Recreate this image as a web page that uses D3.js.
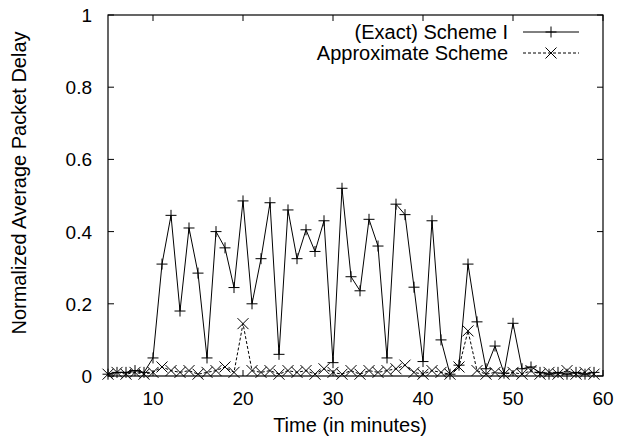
<!DOCTYPE html>
<html>
<head>
<meta charset="utf-8">
<script src="https://cdn.jsdelivr.net/npm/d3@7"></script>
<style>
  body { margin: 0; background: #fff; }
  svg { display: block; font-family: "Liberation Sans", Arial, sans-serif; }
</style>
</head>
<body>
<svg id="chart" width="623" height="443"></svg>
<script>
// Normalized average packet delay over time, two schemes

const minutes = d3.range(5, 60);   // 5 .. 59, one sample per minute

const exactDelay = [
  0.005, 0.01, 0.01, 0.015, 0.01,            // 5-9
  0.05, 0.31, 0.445, 0.18, 0.41,             // 10-14
  0.285, 0.05, 0.40, 0.355, 0.245,           // 15-19
  0.485, 0.20, 0.325, 0.48, 0.06,            // 20-24
  0.46, 0.325, 0.405, 0.345, 0.43,           // 25-29
  0.037, 0.52, 0.275, 0.236, 0.434,          // 30-34
  0.36, 0.05, 0.476, 0.447, 0.246,           // 35-39
  0.04, 0.43, 0.10, 0.005, 0.03,             // 40-44
  0.31, 0.15, 0.02, 0.083, 0.008,            // 45-49
  0.146, 0.02, 0.025, 0.01, 0.005,           // 50-54
  0.01, 0.005, 0.01, 0.005, 0.01             // 55-59
];

const approxDelay = [
  0.005, 0.01, 0.005, 0.01, 0.005,           // 5-9
  0.01, 0.025, 0.015, 0.01, 0.015,           // 10-14
  0.005, 0.01, 0.015, 0.025, 0.01,           // 15-19
  0.145, 0.015, 0.01, 0.015, 0.005,          // 20-24
  0.015, 0.01, 0.015, 0.005, 0.02,           // 25-29
  0.01, 0.005, 0.015, 0.005, 0.015,          // 30-34
  0.01, 0.015, 0.02, 0.03, 0.01,             // 35-39
  0.005, 0.015, 0.01, 0.005, 0.025,          // 40-44
  0.125, 0.015, 0.005, 0.01, 0.005,          // 45-49
  0.01, 0.005, 0.015, 0.005, 0.01,           // 50-54
  0.005, 0.015, 0.005, 0.01, 0.005           // 55-59
];

const xTicks = [10, 20, 30, 40, 50, 60];
const yTicks = [0, 0.2, 0.4, 0.6, 0.8, 1];

const seriesNames = ["(Exact) Scheme I", "Approximate Scheme"];

const width = 623, height = 443;
const margin = { top: 15, right: 20, bottom: 67, left: 108 };

const svg = d3.select("#chart");

const x = d3.scaleLinear()
  .domain([5, 60])
  .range([margin.left, width - margin.right]);

const y = d3.scaleLinear()
  .domain([0, 1])
  .range([height - margin.bottom, margin.top]);

const series = [
  { name: seriesNames[0], values: exactDelay, dash: null, marker: "plus" },
  { name: seriesNames[1], values: approxDelay, dash: "3,2", marker: "cross" }
];

const line = d3.line()
  .x(d => x(d[0]))
  .y(d => y(d[1]));

// marker path, centred on 0,0
function markerPath(type, s = 5.5) {
  if (type === "plus") return `M${-s},0H${s}M0,${-s}V${s}`;
  return `M${-s},${-s}L${s},${s}M${-s},${s}L${s},${-s}`;
}

// Frame ticks (gnuplot style: inward, mirrored)
const tickLen = 6;
const axes = svg.append("g")
  .attr("stroke", "#000")
  .attr("stroke-width", 1);

axes.selectAll(".xt")
  .data(xTicks)
  .join("path")
  .attr("d", d => `M${x(d)},${y(0)}v${-tickLen}M${x(d)},${y(1)}v${tickLen}`);

axes.selectAll(".yt")
  .data(yTicks)
  .join("path")
  .attr("d", d => `M${x(5)},${y(d)}h${tickLen}M${x(60)},${y(d)}h${-tickLen}`);

// Tick labels
svg.append("g")
  .selectAll("text")
  .data(xTicks)
  .join("text")
  .attr("x", d => x(d))
  .attr("y", y(0) + 29)
  .attr("text-anchor", "middle")
  .style("font-size", "19px")
  .text(d => d);

svg.append("g")
  .selectAll("text")
  .data(yTicks)
  .join("text")
  .attr("x", x(5) - 16)
  .attr("y", d => y(d) + 7)
  .attr("text-anchor", "end")
  .style("font-size", "19px")
  .text(d => d);

// Data
const g = svg.append("g");

series.forEach(s => {
  const pts = minutes.map((m, i) => [m, s.values[i]]);

  g.append("path")
    .datum(pts)
    .attr("fill", "none")
    .attr("stroke", "#000")
    .attr("stroke-width", 1)
    .attr("stroke-dasharray", s.dash)
    .attr("d", line);

  g.selectAll(null)
    .data(pts)
    .join("path")
    .attr("transform", d => `translate(${x(d[0])},${y(d[1])})`)
    .attr("d", markerPath(s.marker))
    .attr("stroke", "#000")
    .attr("stroke-width", 1)
    .attr("fill", "none");
});

// Frame
svg.append("rect")
  .attr("x", x(5))
  .attr("y", y(1))
  .attr("width", x(60) - x(5))
  .attr("height", y(0) - y(1))
  .attr("fill", "none")
  .attr("stroke", "#000")
  .attr("stroke-width", 1.2);

// Legend
const legend = svg.append("g");
series.forEach((s, i) => {
  const ly = 32 + i * 21;
  legend.append("text")
    .attr("x", 508)
    .attr("y", ly + 7)
    .attr("text-anchor", "end")
    .style("font-size", "20px")
    .text(s.name);
  legend.append("path")
    .attr("d", `M523,${ly}H579`)
    .attr("stroke", "#000")
    .attr("stroke-dasharray", s.dash);
  legend.append("path")
    .attr("transform", `translate(551,${ly})`)
    .attr("d", markerPath(s.marker))
    .attr("stroke", "#000")
    .attr("fill", "none");
});

// Axis titles
svg.append("text")
  .attr("x", 350)
  .attr("y", 432)
  .attr("text-anchor", "middle")
  .style("font-size", "20px")
  .text("Time (in minutes)");

svg.append("text")
  .attr("transform", "translate(26,183) rotate(-90)")
  .attr("text-anchor", "middle")
  .style("font-size", "20px")
  .text("Normalized Average Packet Delay");
</script>
</body>
</html>
